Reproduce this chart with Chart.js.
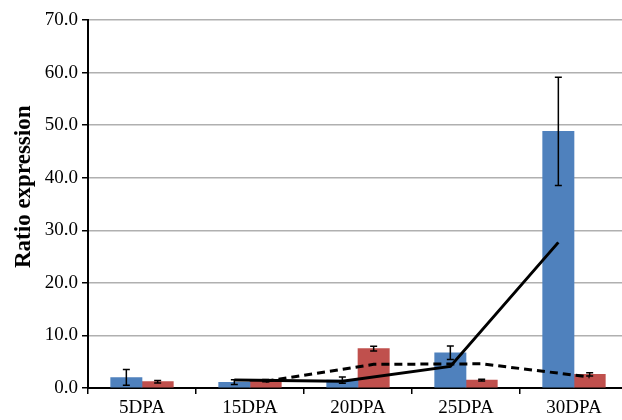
<!DOCTYPE html>
<html>
<head>
<meta charset="utf-8">
<script src="https://cdn.jsdelivr.net/npm/chart.js@4.4.0/dist/chart.umd.min.js"></script>
<style>
  html, body { margin: 0; padding: 0; background: #fff; overflow: hidden; }
  #wrap { width: 632px; height: 420px; position: relative; }
</style>
</head>
<body>
<div id="wrap"><canvas id="chart"></canvas></div>
<script>
// ── Data ─────────────────────────────────────────────────────────────────────
const categories = ["5DPA", "15DPA", "20DPA", "25DPA", "30DPA"];
const blueValues = [2.0, 1.1, 1.5, 6.7, 48.8];
const blueErrors = [1.5, 0.45, 0.6, 1.3, 10.3];
const redValues  = [1.2, 1.4, 7.5, 1.5, 2.6];
const redErrors  = [0.25, 0.2, 0.45, 0.15, 0.3];
// two-period moving-average trend lines, starting at 15DPA
const blueTrend  = [null, 1.5, 1.3, 4.1, 27.7];
const redTrend   = [null, 1.3, 4.5, 4.6, 2.1];
const yTicks     = [0, 10, 20, 30, 40, 50, 60, 70];

const BLUE = "#4f81bd";
const RED  = "#c0504d";
const FONT = "'Liberation Serif', 'Times New Roman', serif";
const GROUP = 0.58;          // share of a category taken by the bar pair

// every mark sits on a hidden linear axis: index -/+ a quarter of the group
function placed(values, side) {
  const shift = side * GROUP / 4;
  return values
    .map((v, i) => (v == null ? null : { x: i + shift, y: v }))
    .filter(p => p);
}

// ── Error bar plugin ─────────────────────────────────────────────────────────
const errorBars = {
  id: "errorBars",
  afterDatasetsDraw(chart) {
    const { ctx } = chart;
    const y = chart.scales.y;
    chart.data.datasets.forEach((ds, di) => {
      if (!ds.errors) return;
      const meta = chart.getDatasetMeta(di);
      meta.data.forEach((bar, i) => {
        const v = ds.data[i].y, e = ds.errors[i];
        const top = y.getPixelForValue(v + e);
        const bot = y.getPixelForValue(v - e);
        ctx.save();
        ctx.strokeStyle = "#000";
        ctx.lineWidth = 1.5;
        ctx.beginPath();
        ctx.moveTo(bar.x, top); ctx.lineTo(bar.x, bot);
        ctx.moveTo(bar.x - 3.5, top); ctx.lineTo(bar.x + 3.5, top);
        ctx.moveTo(bar.x - 3.5, bot); ctx.lineTo(bar.x + 3.5, bot);
        ctx.stroke();
        ctx.restore();
      });
    });
  },
};

// ── Chart ────────────────────────────────────────────────────────────────────
const barStyle = {
  xAxisID: "x2", grouped: false, categoryPercentage: 1, barPercentage: 1,
  borderWidth: 0, order: 1,
};

new Chart(document.getElementById("chart"), {
  type: "bar",
  data: {
    labels: categories,
    datasets: [
      { ...barStyle, data: placed(blueValues, -1), errors: blueErrors, backgroundColor: BLUE },
      { ...barStyle, data: placed(redValues, 1), errors: redErrors, backgroundColor: RED },
      {
        type: "line", data: placed(blueTrend, -1), xAxisID: "x2",
        borderColor: "#000", borderWidth: 3, pointRadius: 0, tension: 0, order: 0,
      },
      {
        type: "line", data: placed(redTrend, 1), xAxisID: "x2",
        borderColor: "#000", borderWidth: 3, borderDash: [8, 5], pointRadius: 0, tension: 0, order: 0,
      },
    ],
  },
  options: {
    responsive: true,
    maintainAspectRatio: false,
    animation: false,
    layout: { padding: { top: 20, right: 4, left: 10, bottom: 0 } },
    plugins: { legend: { display: false }, tooltip: { enabled: false } },
    scales: {
      x: {
        offset: true,
        border: { color: "#000", width: 2 },
        grid: { drawOnChartArea: false, drawTicks: true, tickLength: 6, color: "#000", lineWidth: 1.5 },
        ticks: { color: "#000", font: { family: FONT, size: 19 }, padding: 3, maxRotation: 0 },
        afterFit: s => { s.height = 32; },
      },
      x2: { type: "linear", display: false, offset: false, min: -0.5, max: categories.length - 0.5 },
      y: {
        min: 0, max: 70,
        afterBuildTicks: s => { s.ticks = yTicks.map(v => ({ value: v })); },
        border: { color: "#000", width: 2 },
        grid: { color: "#b0b0b0", lineWidth: 1.5, tickLength: 6, tickColor: "#000" },
        ticks: { color: "#000", font: { family: FONT, size: 19 }, padding: 4, callback: v => v.toFixed(1) },
        title: { display: true, text: "      Ratio expression", color: "#000", font: { family: FONT, size: 23, weight: "bold" }, padding: 0 },
        afterFit: s => { s.width = 78; },
      },
    },
  },
  plugins: [errorBars],
});
</script>
</body>
</html>
